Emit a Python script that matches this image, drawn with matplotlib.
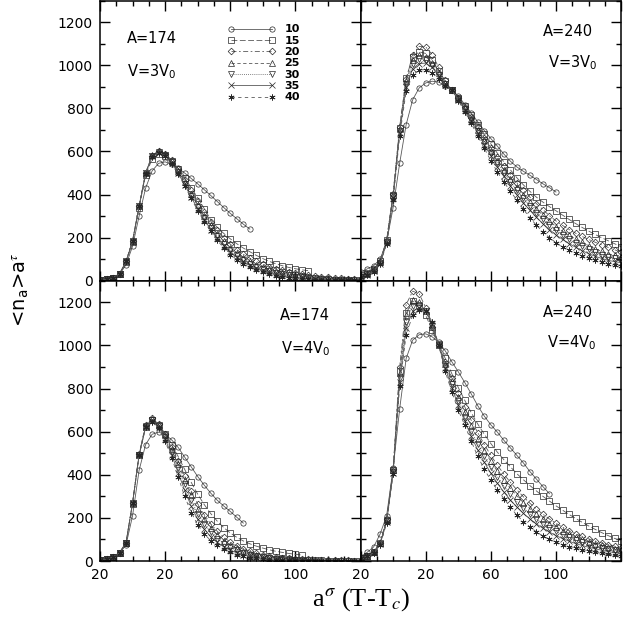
import numpy as np
import matplotlib.pyplot as plt
from matplotlib.ticker import MultipleLocator, FixedLocator, FixedFormatter

plt.rcParams['font.family'] = 'DejaVu Sans'
plt.rcParams['mathtext.fontset'] = 'stix'

# x grid shared by all curves (a^sigma (T-Tc))
x_grid = [-20, -16, -12, -8, -4, 0, 4, 8, 12, 16, 20, 24, 28, 32, 36, 40, 44, 48,
          52, 56, 60, 64, 68, 72, 76, 80, 84, 88, 92, 96, 100, 104, 108, 112, 116,
          120, 124, 128, 132, 136, 140]

sizes = ['10', '15', '20', '25', '30', '35', '40']

# A=174, V=3V0
a174_v3 = [
    [4, 8, 15, 30, 75, 160, 300, 430, 510, 545, 552, 540, 522, 500, 475, 450, 423, 396, 368, 340, 313, 288, 263, 240],
    [4, 8, 15, 30, 85, 180, 340, 490, 565, 588, 580, 555, 520, 478, 432, 385, 335, 283, 248, 220, 195, 172, 152, 135, 118, 103, 90, 79, 70, 62, 56, 51, 47],
    [4, 8, 15, 32, 90, 185, 345, 500, 580, 603, 590, 560, 520, 470, 420, 370, 320, 275, 235, 200, 170, 145, 123, 105, 90, 77, 66, 56, 48, 41, 35, 30, 26, 22, 19, 16, 14, 12, 10, 9, 8],
    [4, 8, 15, 32, 90, 185, 345, 500, 582, 602, 588, 555, 510, 458, 405, 352, 302, 258, 218, 183, 153, 128, 107, 90, 75, 63, 53, 44, 37, 31, 26, 22, 18, 15, 13, 11, 9, 8, 7, 6, 5],
    [4, 8, 15, 32, 90, 185, 345, 500, 580, 598, 585, 550, 505, 450, 395, 342, 292, 246, 206, 172, 142, 118, 97, 80, 66, 54, 45, 37, 30, 25, 20, 17, 14, 11, 9, 8, 6, 5, 4, 4, 3],
    [4, 8, 15, 32, 90, 185, 345, 498, 578, 595, 582, 547, 500, 445, 388, 334, 284, 238, 198, 163, 134, 110, 90, 73, 59, 48, 39, 31, 25, 20, 16, 13, 10, 8, 7, 5, 4, 4, 3, 3, 2],
    [4, 8, 15, 32, 90, 185, 345, 495, 575, 592, 578, 543, 495, 440, 382, 326, 275, 230, 188, 152, 122, 98, 78, 62, 49, 39, 31, 24, 19, 15, 12, 9, 7, 6, 5, 4, 3, 3, 2, 2, 2],
]

# A=240, V=3V0
a240_v3 = [
    [40, 55, 70, 100, 180, 340, 545, 725, 840, 895, 918, 926, 922, 905, 885, 858, 818, 778, 737, 697, 660, 625, 588, 555, 528, 508, 490, 470, 450, 432, 412],
    [25, 35, 55, 90, 190, 400, 710, 940, 1040, 1062, 1055, 1025, 975, 925, 885, 850, 812, 770, 725, 680, 635, 592, 552, 515, 478, 445, 415, 388, 365, 344, 325, 305, 285, 266, 248, 231, 215, 200, 186, 172, 158],
    [22, 32, 52, 88, 190, 405, 715, 935, 1050, 1088, 1085, 1050, 990, 930, 885, 848, 806, 760, 712, 664, 618, 575, 533, 493, 455, 420, 388, 358, 330, 302, 278, 257, 238, 221, 206, 192, 179, 167, 155, 144, 133],
    [20, 30, 50, 85, 185, 400, 705, 925, 1025, 1048, 1040, 1010, 965, 918, 885, 845, 800, 752, 702, 652, 604, 558, 515, 474, 435, 398, 364, 333, 304, 277, 252, 230, 211, 194, 178, 163, 149, 137, 126, 118, 110],
    [20, 30, 48, 82, 180, 395, 695, 915, 1005, 1030, 1025, 1000, 955, 912, 885, 843, 797, 747, 695, 643, 594, 547, 502, 460, 420, 383, 348, 316, 287, 260, 235, 213, 194, 176, 160, 146, 133, 122, 112, 104, 97],
    [18, 28, 45, 80, 175, 385, 685, 900, 985, 1008, 1010, 990, 950, 910, 885, 840, 792, 740, 686, 632, 580, 530, 484, 441, 400, 362, 327, 295, 265, 238, 213, 192, 173, 156, 140, 126, 114, 104, 95, 89, 84],
    [16, 26, 42, 78, 170, 375, 670, 880, 955, 978, 980, 965, 935, 905, 885, 836, 785, 730, 672, 614, 558, 505, 458, 416, 374, 332, 292, 258, 227, 200, 177, 157, 141, 127, 115, 104, 95, 87, 80, 74, 68],
]

# A=174, V=4V0
a174_v4 = [
    [5, 10, 18, 35, 75, 210, 420, 540, 588, 598, 587, 562, 527, 482, 437, 392, 352, 315, 282, 255, 230, 203, 176],
    [5, 10, 18, 38, 85, 265, 490, 620, 652, 630, 590, 540, 485, 425, 365, 310, 262, 220, 185, 155, 130, 110, 93, 80, 69, 60, 52, 45, 40, 35, 31, 28],
    [5, 10, 18, 38, 85, 270, 495, 630, 662, 635, 590, 530, 465, 395, 325, 265, 215, 172, 138, 110, 88, 70, 56, 45, 36, 29, 24, 19, 16, 13, 11, 9, 8, 6, 5, 5, 4, 3, 3, 2, 2],
    [5, 10, 18, 38, 85, 270, 495, 628, 660, 632, 585, 520, 450, 378, 305, 242, 193, 152, 120, 95, 75, 59, 47, 37, 30, 24, 19, 15, 12, 10, 8, 7, 6, 5, 4, 3, 3, 2, 2, 2, 2],
    [5, 10, 18, 38, 85, 270, 492, 625, 655, 628, 575, 505, 430, 355, 283, 220, 172, 134, 104, 81, 63, 49, 38, 30, 23, 18, 14, 11, 9, 7, 6, 5, 4, 3, 3, 2, 2, 2, 1, 1, 1],
    [5, 10, 18, 38, 85, 270, 490, 622, 650, 622, 565, 492, 410, 328, 255, 193, 148, 113, 86, 66, 50, 38, 29, 22, 17, 13, 10, 8, 6, 5, 4, 3, 3, 2, 2, 2, 1, 1, 1, 1, 1],
    [5, 10, 18, 38, 85, 270, 490, 620, 645, 615, 555, 480, 390, 300, 225, 168, 125, 95, 72, 55, 40, 30, 22, 16, 12, 9, 7, 5, 4, 3, 3, 2, 2, 2, 1, 1, 1, 1, 1, 1, 1],
]

# A=240, V=4V0
a240_v4 = [
    [20, 40, 65, 125, 210, 430, 705, 940, 1025, 1050, 1054, 1040, 1015, 975, 925, 878, 828, 775, 720, 672, 632, 598, 560, 525, 490, 455, 415, 380, 345, 312],
    [15, 25, 42, 85, 190, 420, 880, 1150, 1205, 1190, 1140, 1070, 1005, 940, 870, 805, 745, 688, 635, 588, 545, 505, 470, 437, 405, 377, 350, 325, 300, 278, 256, 236, 216, 198, 180, 163, 147, 132, 118, 105, 93],
    [15, 25, 42, 85, 195, 425, 900, 1190, 1252, 1240, 1175, 1085, 1002, 925, 850, 780, 715, 652, 595, 540, 490, 445, 403, 365, 330, 298, 268, 241, 217, 195, 175, 157, 141, 127, 114, 103, 93, 84, 76, 69, 62],
    [15, 24, 40, 82, 190, 420, 870, 1140, 1210, 1200, 1160, 1085, 1000, 915, 835, 760, 692, 627, 567, 512, 462, 416, 375, 337, 302, 271, 243, 218, 195, 174, 156, 140, 125, 112, 100, 90, 81, 72, 65, 58, 52],
    [15, 23, 38, 80, 185, 415, 850, 1110, 1185, 1185, 1158, 1090, 1000, 905, 820, 742, 670, 603, 541, 485, 434, 388, 347, 310, 276, 246, 219, 195, 174, 155, 138, 123, 110, 98, 87, 78, 70, 62, 56, 50, 45],
    [15, 22, 37, 78, 180, 410, 830, 1080, 1160, 1175, 1160, 1100, 1000, 895, 805, 722, 648, 578, 515, 458, 407, 361, 320, 283, 250, 221, 195, 172, 152, 134, 118, 104, 92, 81, 72, 64, 57, 50, 44, 39, 35],
    [15, 22, 36, 75, 175, 405, 810, 1050, 1140, 1165, 1160, 1110, 1000, 880, 785, 700, 630, 555, 485, 425, 375, 330, 290, 250, 212, 183, 158, 135, 116, 100, 87, 76, 67, 59, 52, 46, 41, 36, 32, 28, 25],
]

markers = ['o', 's', 'D', '^', 'v', 'x', (6, 2, 0)]
linestyles = ['-', (0, (7, 3)), (0, (6, 3, 2, 3)), (0, (4, 3)), (0, (1, 1.5)), '-', (0, (4, 4))]
msizes = [3.8, 3.8, 3.4, 4.0, 4.0, 3.8, 4.4]


def draw_panel(ax, curves):
    handles = []
    for i, y in enumerate(curves):
        h, = ax.plot(x_grid[:len(y)], y, color='0.35', lw=0.6, ls=linestyles[i],
                     marker=markers[i], ms=msizes[i], mfc='none', mec='0.15', mew=0.5)
        handles.append(h)
    ax.set_xlim(-20, 140)
    ax.set_ylim(0, 1300)
    ax.xaxis.set_major_locator(FixedLocator([-20, 20, 60, 100, 140]))
    ax.xaxis.set_major_formatter(FixedFormatter(['20', '20', '60', '100', '']))
    ax.xaxis.set_minor_locator(MultipleLocator(10))
    ax.yaxis.set_major_locator(MultipleLocator(200))
    ax.yaxis.set_minor_locator(MultipleLocator(100))
    ax.tick_params(which='both', direction='in', top=True, right=True, width=1.0,
                   labelsize=10)
    ax.tick_params(which='major', length=7, pad=5)
    ax.tick_params(which='minor', length=3.5)
    for s in ax.spines.values():
        s.set_linewidth(1.1)
    return handles


fig, axes = plt.subplots(2, 2, figsize=(6.23, 6.23), dpi=100,
                         gridspec_kw={'hspace': 0, 'wspace': 0})
fig.subplots_adjust(left=0.1605, right=0.997, bottom=0.0995, top=0.999)

panels = [(axes[0, 0], a174_v3, 'A=174', r'V=3V$_\mathregular{0}$', (0.2, 0.865), (0.2, 0.744)),
          (axes[0, 1], a240_v3, 'A=240', r'V=3V$_\mathregular{0}$', (0.794, 0.89), (0.813, 0.776)),
          (axes[1, 0], a174_v4, 'A=174', r'V=4V$_\mathregular{0}$', (0.785, 0.875), (0.79, 0.758)),
          (axes[1, 1], a240_v4, 'A=240', r'V=4V$_\mathregular{0}$', (0.794, 0.886), (0.81, 0.779))]

legend_handles = None
for ax, curves, atext, vtext, apos, vpos in panels:
    h = draw_panel(ax, curves)
    if legend_handles is None:
        legend_handles = h
    ax.text(apos[0], apos[1], atext, transform=ax.transAxes, ha='center', va='center', fontsize=10.5)
    ax.text(vpos[0], vpos[1], vtext, transform=ax.transAxes, ha='center', va='center', fontsize=10.5)

for ax in axes[0, :]:
    ax.tick_params(labelbottom=False)
for ax in axes[:, 1]:
    ax.tick_params(labelleft=False)

axes[0, 0].legend(legend_handles, sizes, loc='upper left', bbox_to_anchor=(0.49, 0.915),
                  frameon=False, numpoints=2, prop={'weight': 'bold', 'size': 8},
                  handlelength=4.3, handletextpad=0.8, labelspacing=0.12,
                  borderpad=0, borderaxespad=0)

fig.text(0.034, 0.535, r'<n$_\mathregular{a}$>a$^\tau$', rotation=90, fontsize=14,
         ha='center', va='center')
fig.text(0.58, 0.037, r'a$^\sigma$ (T-T$_c$)', family='Liberation Serif', fontsize=19,
         ha='center', va='center')

fig.savefig('out.png', dpi=100)
